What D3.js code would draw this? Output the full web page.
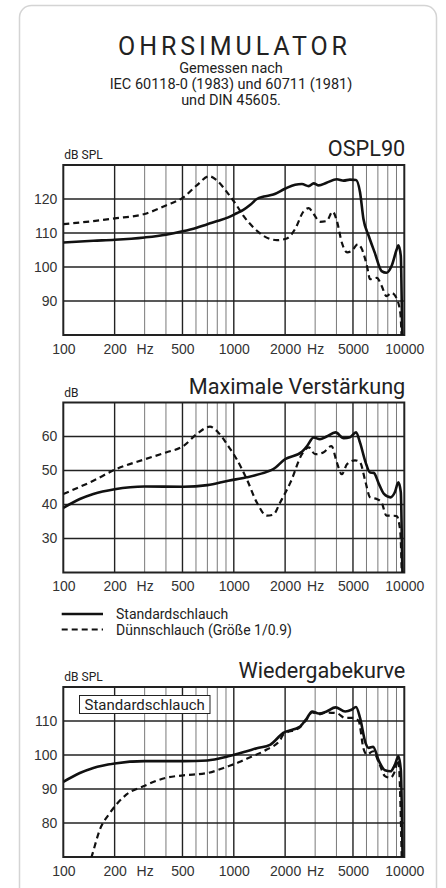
<!DOCTYPE html>
<html>
<head>
<meta charset="utf-8">
<script src="https://cdn.jsdelivr.net/npm/d3@7"></script>
<style>
  body { margin: 0; background: #fff; }
  svg { display: block; }
  .head { font-family: Roboto, "Open Sans", sans-serif; fill: #222; }
  .tick text { font-family: "Liberation Sans Narrow", "Liberation Sans", Arial, sans-serif; fill: #333; }
</style>
</head>
<body>
<script>
// frequency ticks (Hz) and labels
var xTickValues = [100, 200, 300, 500, 1000, 2000, 3000, 5000, 10000];
var xTickLabels = ["100", "200", "Hz", "500", "1000", "2000", "Hz", "5000", "10000"];
var gridMajor = [200, 500, 1000, 2000, 5000];
var gridMinor = [300, 400, 600, 700, 800, 900, 3000, 4000, 6000, 7000, 8000, 9000];

// OSPL90, dB SPL
var osplStandard = [[100,107.2],[150,107.7],[200,108.0],[300,108.7],[400,109.5],[500,110.5],[600,111.5],[700,112.6],[800,113.5],[928,114.6],[1040,115.8],[1137,116.8],[1250,118.3],[1365,120.0],[1500,120.7],[1705,121.3],[1995,123.0],[2290,124.2],[2510,124.4],[2750,123.8],[2940,124.6],[3150,124.0],[3500,124.8],[4020,125.8],[4410,125.4],[4800,125.7],[5210,125.6],[5500,122.0],[5760,114.1],[6180,109.2],[6700,104.3],[7360,98.8],[7860,98.3],[8420,100.3],[9030,105.2],[9230,106.4],[9540,103.3],[9720,81.6],[9800,75]];
var osplThin = [[100,112.6],[150,113.5],[200,114.3],[300,115.6],[400,118.1],[506,120.5],[606,124.0],[718,126.7],[794,125.5],[928,121.5],[1040,118.1],[1137,115.1],[1300,111.7],[1490,109.2],[1790,107.9],[2046,108.4],[2290,111.2],[2560,116.3],[2750,117.3],[2940,115.6],[3200,113.3],[3500,113.5],[3800,116.3],[4020,113.6],[4300,107.2],[4620,104.3],[4900,104.7],[5340,106.7],[5600,105.6],[6040,100.3],[6300,96.4],[6900,96.8],[7360,94.5],[7860,91.4],[8420,92.4],[8900,91.3],[9480,86.5],[9700,75]];

// Maximale Verstärkung, dB
var gainStandard = [[100,39.0],[125,41.6],[150,43.1],[200,44.5],[300,45.3],[506,45.2],[700,45.7],[928,47.0],[1190,48.0],[1560,49.6],[1705,50.4],[1995,53.3],[2510,55.5],[2690,57.2],[2940,59.7],[3200,59.2],[3500,60.0],[3950,61.2],[4410,59.5],[4800,59.8],[5210,61.2],[5500,58.2],[5930,52.4],[6300,49.4],[6620,49.3],[7100,46.0],[7600,43.1],[8300,42.1],[8800,43.6],[9230,46.5],[9540,43.6],[9750,20],[9800,15]];
var gainThin = [[100,43.1],[150,47.0],[200,50.2],[300,53.3],[400,55.3],[506,57.2],[606,60.7],[725,62.9],[810,61.2],[928,57.2],[1040,53.3],[1190,47.5],[1365,40.6],[1560,36.7],[1705,37.0],[1870,40.6],[2150,46.5],[2510,54.8],[2750,56.8],[3000,54.8],[3350,55.3],[3740,57.2],[4020,52.4],[4300,48.9],[4620,51.9],[5140,53.0],[5500,52.4],[5930,46.5],[6300,42.1],[6900,41.6],[7360,40.6],[7860,36.7],[8600,36.7],[9030,36.6],[9480,31.8],[9700,15]];

// Wiedergabekurve, dB SPL
var respStandard = [[100,92.1],[125,94.7],[150,96.2],[200,97.5],[300,98.2],[506,98.2],[700,98.4],[928,99.6],[1190,101.1],[1365,102.0],[1630,103.0],[1950,106.5],[2450,108.4],[2690,110.9],[2880,112.8],[3150,112.2],[3500,112.8],[3950,114.0],[4500,112.8],[4900,113.3],[5210,114.1],[5500,110.9],[5930,103.5],[6180,102.1],[6560,102.4],[7100,98.2],[7700,95.5],[8300,95.2],[8800,97.1],[9230,99.6],[9540,95.7],[9800,65]];
var respThin = [[140,67],[147,70.3],[164,78.1],[188,83.0],[235,88.4],[295,90.8],[400,93.3],[506,94.0],[700,94.7],[928,96.7],[1088,98.0],[1190,98.9],[1560,101.6],[1870,104.4],[1950,106.0],[2450,108.2],[2690,110.6],[2880,112.5],[3150,112.0],[3500,112.5],[4020,112.3],[4500,110.9],[5000,110.9],[5400,110.0],[5760,101.9],[6040,100.1],[6560,101.1],[7100,97.7],[7700,93.8],[8300,93.3],[8800,95.2],[9230,98.6],[9700,65]];

var W = 446, H = 888;
var left = 63.3, right = 404.3, ph = 170;

var svg = d3.select("body").append("svg").attr("width", W).attr("height", H);

// card
svg.append("rect")
  .attr("x", 19.5).attr("y", 5.5)
  .attr("width", 417).attr("height", 900)
  .attr("rx", 12)
  .attr("fill", "#fff")
  .attr("stroke", "#d4d4d4")
  .attr("stroke-width", 1.5);

var cx = 231;
svg.append("text").attr("class", "head")
  .attr("x", 118).attr("y", 55)
  .attr("font-size", 25)
  .attr("textLength", 229).attr("lengthAdjust", "spacing")
  .text("OHRSIMULATOR");
var sub = ["Gemessen nach", "IEC 60118-0 (1983) und 60711 (1981)", "und DIN 45605."];
svg.selectAll(".sub").data(sub).enter().append("text")
  .attr("class", "head sub")
  .attr("x", cx).attr("y", (d, i) => 73 + i * 16)
  .attr("text-anchor", "middle")
  .attr("font-size", 14.5)
  .text(d => d);

var xScale = d3.scaleLog().domain([100, 10000]).range([left, right]);

function chart(top, yDomain, yTicks, unit, title, series) {
  var yScale = d3.scaleLinear().domain(yDomain).range([top + ph, top]);
  var g = svg.append("g");
  var id = "clip" + Math.round(top);

  g.append("clipPath").attr("id", id).append("rect")
    .attr("x", left).attr("y", top).attr("width", right - left).attr("height", ph);

  g.selectAll(".vmin").data(gridMinor).enter().append("line")
    .attr("x1", d => xScale(d)).attr("x2", d => xScale(d))
    .attr("y1", top).attr("y2", top + ph)
    .attr("stroke", "#7a7a7a").attr("stroke-width", 1);
  g.selectAll(".vmaj").data(gridMajor).enter().append("line")
    .attr("x1", d => xScale(d)).attr("x2", d => xScale(d))
    .attr("y1", top).attr("y2", top + ph)
    .attr("stroke", "#222").attr("stroke-width", 1.4);
  g.selectAll(".hgrid").data(yTicks).enter().append("line")
    .attr("x1", left).attr("x2", right)
    .attr("y1", d => yScale(d)).attr("y2", d => yScale(d))
    .attr("stroke", "#222").attr("stroke-width", 1.4);

  g.append("rect")
    .attr("x", left).attr("y", top).attr("width", right - left).attr("height", ph)
    .attr("fill", "none").attr("stroke", "#222").attr("stroke-width", 2);

  var line = d3.line()
    .x(d => xScale(d[0])).y(d => yScale(d[1]))
    .curve(d3.curveMonotoneX);

  series.forEach(function(s) {
    g.append("path")
      .datum(s.data)
      .attr("clip-path", "url(#" + id + ")")
      .attr("d", line)
      .attr("fill", "none")
      .attr("stroke", "#111")
      .attr("stroke-width", s.dashed ? 2.2 : 2.6)
      .attr("stroke-dasharray", s.dashed ? "6,4" : null);
  });

  var xAxis = d3.axisBottom(xScale).tickValues(xTickValues)
    .tickFormat((d, i) => xTickLabels[i]).tickSize(0).tickPadding(9);
  g.append("g").attr("transform", "translate(0," + (top + ph) + ")")
    .call(xAxis).call(a => a.select(".domain").remove())
    .selectAll("text").attr("font-size", 14);

  var yAxis = d3.axisLeft(yScale).tickValues(yTicks).tickSize(0).tickPadding(6);
  g.append("g").attr("transform", "translate(" + left + ",0)")
    .call(yAxis).call(a => a.select(".domain").remove())
    .selectAll("text").attr("font-size", 14);

  g.append("text").attr("class", "head")
    .attr("x", left + 1).attr("y", top - 6)
    .attr("font-size", 12)
    .text(unit);
  g.append("text").attr("class", "head")
    .attr("x", right + 1).attr("y", top - 9)
    .attr("text-anchor", "end")
    .attr("font-size", 21.7)
    .text(title);
  return g;
}

chart(165, [80, 130], [90, 100, 110, 120], "dB SPL", "OSPL90",
  [{data: osplStandard}, {data: osplThin, dashed: true}]);
chart(402.5, [20, 70], [30, 40, 50, 60], "dB", "Maximale Verstärkung",
  [{data: gainStandard}, {data: gainThin, dashed: true}]);
var g3 = chart(687, [70, 120], [80, 90, 100, 110], "dB SPL", "Wiedergabekurve",
  [{data: respStandard}, {data: respThin, dashed: true}]);

// box label in the third chart
g3.append("rect")
  .attr("x", 79.5).attr("y", 695.5).attr("width", 130.5).attr("height", 18)
  .attr("fill", "#fff").attr("stroke", "#222").attr("stroke-width", 1);
g3.append("text").attr("class", "head")
  .attr("x", 144.7).attr("y", 709.5)
  .attr("text-anchor", "middle")
  .attr("font-size", 15)
  .text("Standardschlauch");

// legend
var legend = [
  {label: "Standardschlauch", dashed: false},
  {label: "Dünnschlauch (Größe 1/0.9)", dashed: true}
];
var lg = svg.append("g");
lg.selectAll("line").data(legend).enter().append("line")
  .attr("x1", 61.7).attr("x2", 103)
  .attr("y1", (d, i) => 614 + i * 15.5).attr("y2", (d, i) => 614 + i * 15.5)
  .attr("stroke", "#111").attr("stroke-width", d => d.dashed ? 2.2 : 2.6)
  .attr("stroke-dasharray", d => d.dashed ? "6,4" : null);
lg.selectAll("text").data(legend).enter().append("text")
  .attr("class", "head")
  .attr("x", 116).attr("y", (d, i) => 619 + i * 15.5)
  .attr("font-size", 14)
  .text(d => d.label);
</script>
</body>
</html>
